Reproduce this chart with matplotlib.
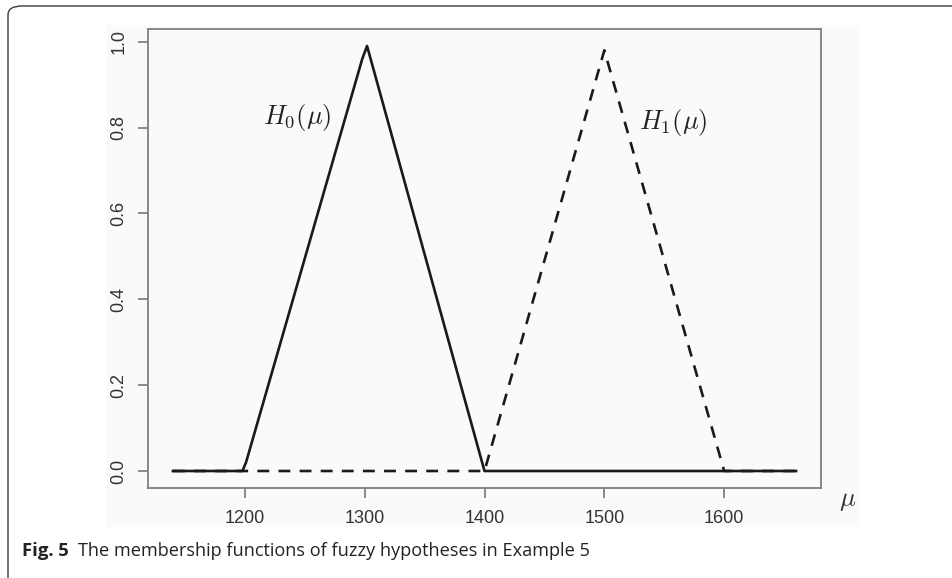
import matplotlib
matplotlib.use("Agg")
import matplotlib.pyplot as plt
from matplotlib.patches import FancyBboxPatch, Rectangle

plt.rcParams['mathtext.fontset'] = 'cm'

# Data
h0_x = [1140, 1198, 1201, 1298, 1302, 1400, 1660]
h0_y = [0.0, 0.0, 0.02, 0.96, 0.99, 0.0, 0.0]
h1_x = [1140, 1400, 1500, 1600, 1660]
h1_y = [0.0, 0.0, 0.98, 0.0, 0.0]
x_ticks = [1200, 1300, 1400, 1500, 1600]
y_ticks = [0.0, 0.2, 0.4, 0.6, 0.8, 1.0]
y_tick_labels = ["0.0", "0.2", "0.4", "0.6", "0.8", "1.0"]
label_h0 = r"$H_0(\mu)$"
label_h1 = r"$H_1(\mu)$"
caption_bold = "Fig. 5"
caption_text = "The membership functions of fuzzy hypotheses in Example 5"

W, H = 952, 578
fig = plt.figure(figsize=(W / 100, H / 100), dpi=100)

# outer rounded frame
frame = FancyBboxPatch((8 / W, 1 - 590 / H), 990 / W, 584 / H,
                       boxstyle="round,pad=0,rounding_size=0.015",
                       transform=fig.transFigure, fill=False,
                       edgecolor="#3a3a3a", linewidth=1.0, clip_on=False, zorder=-2)
fig.patches.append(frame)

# faint plot background
bg = Rectangle((107 / W, 1 - 527 / H), 753 / W, 502 / H, transform=fig.transFigure,
               facecolor="#fafafa", edgecolor="none", zorder=-1)
fig.patches.append(bg)

ax = fig.add_axes([148 / W, 1 - 488 / H, (821 - 148) / W, (488 - 29) / H])
ax.set_facecolor("none")
ax.set_zorder(2)

ax.plot(h1_x, h1_y, color="#1a1a1a", linewidth=1.9, linestyle=(0, (4.5, 3.5)))
ax.plot(h0_x, h0_y, color="#1a1a1a", linewidth=1.9)

ax.set_xlim(1119.2, 1680.8)
ax.set_ylim(-0.0396, 1.0296)

ax.set_xticks(x_ticks)
ax.set_xticklabels([str(v) for v in x_ticks], fontsize=13, family="Liberation Sans", color="#333333")
ax.set_yticks(y_ticks)
ax.set_yticklabels(y_tick_labels, fontsize=13, family="Liberation Sans", color="#333333",
                   rotation=90, va="center")
ax.tick_params(axis="both", length=7, width=1.2, color="#777777")
ax.tick_params(axis="x", pad=9)
ax.tick_params(axis="y", pad=8)

for s in ax.spines.values():
    s.set_color("#808080")
    s.set_linewidth(1.3)

ax.text(1244.2, 0.823, label_h0, fontsize=19, ha="center", va="center", color="#222222")
ax.text(1557.5, 0.812, label_h1, fontsize=19, ha="center", va="center", color="#222222")

fig.text(848 / W, 1 - 500 / H, r"$\mu$", fontsize=19, ha="center", va="center", color="#333333")

t = fig.text(22 / W, 1 - 551 / H, caption_bold, fontsize=13.3, fontweight="bold",
             family="Open Sans", ha="left", va="center", color="#222222")
fig.canvas.draw()
bb = t.get_window_extent()
fig.text((bb.x1 + 9) / W, 1 - 551 / H, caption_text, fontsize=13.1,
         family="Open Sans", ha="left", va="center", color="#222222")

fig.savefig("out.png", dpi=100)
